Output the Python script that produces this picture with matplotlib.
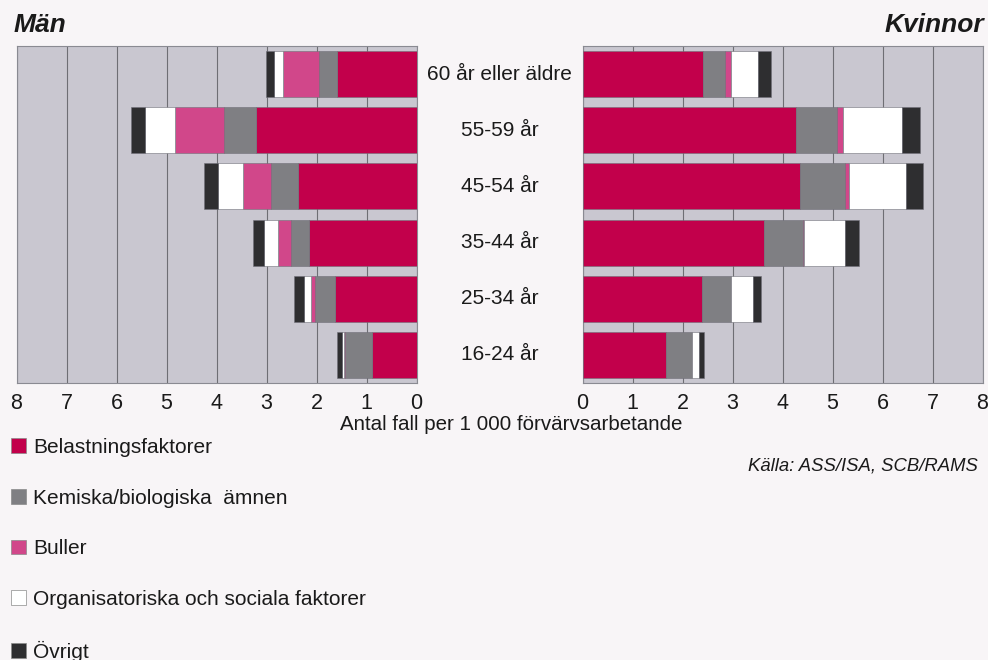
import matplotlib
matplotlib.use("Agg")
import matplotlib.pyplot as plt
from matplotlib.patches import Patch
from matplotlib.transforms import ScaledTranslation

plt.rcParams["font.family"] = ["Liberation Sans", "DejaVu Sans"]

# -----------------------------
# data (bottom row first)
# -----------------------------
ages = ["16-24 år", "25-34 år", "35-44 år", "45-54 år", "55-59 år", "60 år eller äldre"]
categories = ["Belastningsfaktorer", "Kemiska/biologiska  ämnen", "Buller",
              "Organisatoriska och sociala faktorer", "Övrigt"]

# Män
belast_m = [0.90, 1.64, 2.15, 2.37, 3.21, 1.59]
kemisk_m = [0.53, 0.39, 0.36, 0.54, 0.65, 0.37]
buller_m = [0.03, 0.09, 0.26, 0.57, 0.98, 0.72]
org_m = [0.04, 0.13, 0.29, 0.50, 0.59, 0.18]
ovrigt_m = [0.09, 0.21, 0.21, 0.27, 0.29, 0.16]

# Kvinnor
belast_k = [1.66, 2.39, 3.63, 4.35, 4.26, 2.40]
kemisk_k = [0.52, 0.57, 0.77, 0.89, 0.82, 0.44]
buller_k = [0.00, 0.00, 0.03, 0.09, 0.12, 0.12]
org_k = [0.14, 0.44, 0.81, 1.13, 1.19, 0.55]
ovrigt_k = [0.11, 0.17, 0.29, 0.34, 0.35, 0.26]

ticks = list(range(0, 9))

colors = ["#c2004b", "#7f7f83", "#d1478a", "#ffffff", "#2e2e30"]
panel_bg = "#c9c7d0"
page_bg = "#f8f5f7"
txt = "#1a1a1a"

W, H = 988, 660
fig = plt.figure(figsize=(W / 100, H / 100), dpi=100, facecolor=page_bg)


def px_axes(x0, y0, x1, y1):
    # pixel box (top-left origin) -> figure axes
    return fig.add_axes([x0 / W, 1 - y1 / H, (x1 - x0) / W, (y1 - y0) / H])


ax_m = px_axes(16.5, 46, 416.5, 383)
ax_k = px_axes(582.5, 46, 982.5, 383)

series_m = [belast_m, kemisk_m, buller_m, org_m, ovrigt_m]
series_k = [belast_k, kemisk_k, buller_k, org_k, ovrigt_k]
ypos = list(range(len(ages)))

for ax, series in [(ax_m, series_m), (ax_k, series_k)]:
    ax.set_facecolor(panel_bg)
    ax.set_xlim(0, 8)
    ax.set_ylim(-0.5, len(ages) - 0.5)
    left = [0.0] * len(ages)
    for vals, col in zip(series, colors):
        ax.barh(ypos, vals, left=left, height=0.82, color=col,
                edgecolor="#6f6f78", linewidth=0.4, zorder=3)
        left = [a + b for a, b in zip(left, vals)]
    ax.set_xticks(ticks)
    ax.set_xticklabels([str(t) for t in ticks], fontsize=15.5)
    ax.tick_params(axis="x", length=0, pad=7, colors=txt)
    ax.set_yticks([])
    ax.grid(axis="x", color="#6e6e74", linewidth=0.8, zorder=1)
    ax.set_axisbelow(True)
    for s in ax.spines.values():
        s.set_color("#8a8a92")
        s.set_linewidth(0.8)

ax_m.invert_xaxis()

# age labels centred in the gap between the panels
gap_shift = ScaledTranslation(-83 / 100, 0, fig.dpi_scale_trans)
for y, lab in zip(ypos, ages):
    ax_k.text(0, y, lab, transform=ax_k.get_yaxis_transform() + gap_shift,
              ha="center", va="center", fontsize=15, color=txt)

fig.text(14 / W, 1 - 25 / H, "Män", fontsize=19, fontweight="bold", fontstyle="italic",
         ha="left", va="center", color=txt)
fig.text(984 / W, 1 - 25 / H, "Kvinnor", fontsize=19, fontweight="bold", fontstyle="italic",
         ha="right", va="center", color=txt)

fig.text(511 / W, 1 - 424 / H, "Antal fall per 1 000 förvärvsarbetande", fontsize=14.8,
         ha="center", va="center", color=txt)
fig.text(978 / W, 1 - 466 / H, "Källa: ASS/ISA, SCB/RAMS", fontsize=13.3, fontstyle="italic",
         ha="right", va="center", color=txt)

# legend
handles = [Patch(facecolor=c, edgecolor="#8a8a8a", linewidth=0.5) for c in colors]
fig.legend(handles, categories, loc="upper left", bbox_to_anchor=(11 / W, 1 - 438 / H),
           frameon=False, fontsize=15, labelspacing=1.52, handlelength=0.7,
           handleheight=0.7, handletextpad=0.35, borderpad=0, borderaxespad=0,
           labelcolor=txt)

fig.savefig("out.png", dpi=100, facecolor=page_bg)
